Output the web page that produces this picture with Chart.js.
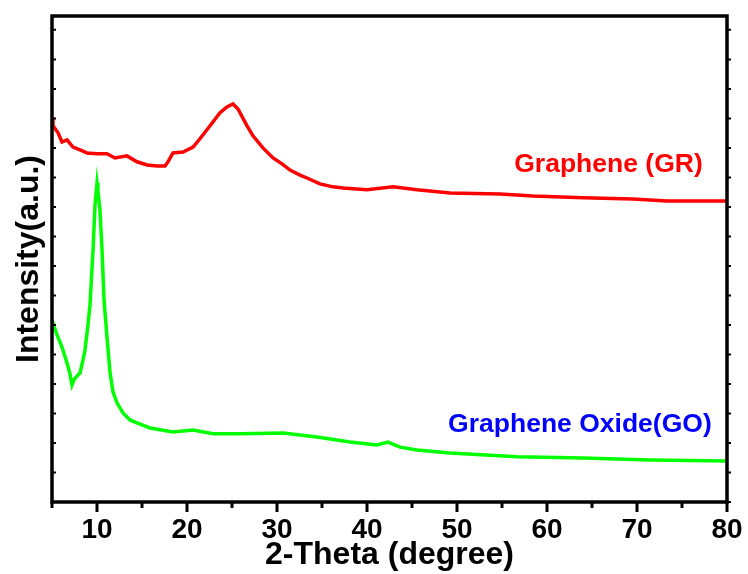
<!DOCTYPE html>
<html>
<head>
<meta charset="utf-8">
<script src="https://cdn.jsdelivr.net/npm/chart.js@4/dist/chart.umd.min.js"></script>
<style>
  html, body { margin: 0; padding: 0; background: #ffffff; }
  #wrap { width: 748px; height: 574px; position: relative; }
</style>
</head>
<body>
<div id="wrap"><canvas id="c" width="748" height="574"></canvas></div>
<script>
// ---- Data (2-theta in degrees, intensity in a.u.) ----
const grTheta = [5.0, 5.11, 5.67, 6.11, 6.67, 7.33, 8.11, 8.89, 10.0, 11.11, 12.0, 13.33, 14.44, 15.56, 16.67, 17.56, 17.89, 18.44, 19.56, 20.67, 21.44, 22.56, 23.67, 24.44, 25.11, 25.67, 26.67, 27.33, 28.44, 29.56, 30.56, 31.44, 32.56, 33.33, 34.78, 36.22, 37.33, 40.0, 42.89, 45.56, 49.22, 54.78, 58.44, 64.0, 69.56, 73.33, 77.0, 80.0];
const grIntensity = [1302, 1275, 1251, 1220, 1227, 1203, 1193, 1183, 1180, 1180, 1166, 1173, 1153, 1142, 1139, 1139, 1153, 1183, 1186, 1203, 1231, 1275, 1319, 1339, 1349, 1332, 1275, 1241, 1200, 1166, 1146, 1125, 1108, 1098, 1078, 1068, 1064, 1058, 1068, 1058, 1047, 1044, 1037, 1031, 1027, 1020, 1020, 1020];

const goTheta = [5.0, 5.56, 6.11, 6.67, 7.0, 7.22, 7.44, 7.78, 8.11, 8.44, 8.67, 9.0, 9.22, 9.56, 9.78, 10.0, 10.11, 10.33, 10.56, 10.78, 11.11, 11.44, 11.78, 12.22, 12.89, 13.67, 14.44, 15.89, 18.44, 20.67, 22.89, 25.89, 30.67, 34.44, 38.11, 41.11, 42.33, 43.67, 45.56, 49.22, 56.67, 64.0, 71.44, 80.0];
const goIntensity = [617, 566, 525, 471, 434, 397, 414, 427, 437, 481, 515, 600, 668, 854, 1007, 1081, 1051, 990, 854, 685, 559, 441, 373, 336, 302, 278, 268, 251, 237, 244, 231, 231, 234, 220, 203, 193, 203, 186, 176, 166, 153, 149, 142, 139];

const xTickLabels = ['10', '20', '30', '40', '50', '60', '70', '80'];
const seriesNames = ['Graphene (GR)', 'Graphene Oxide(GO)'];
const seriesColors = ['#ff0000', '#00ff00'];
const labelColors = ['#ff0000', '#0000ff'];
// label anchors (right edge in degrees, baseline in intensity units)
const labelTheta = [77.3, 78.3];
const labelIntensity = [1119, 237];

const X_MIN = 5, X_MAX = 80, Y_MIN = 0, Y_MAX = 1647;

function toPoints(xs, ys) { return xs.map((x, i) => ({ x: x, y: ys[i] })); }

const FONT = "'Liberation Sans', Arial, Helvetica, sans-serif";

const framePlugin = {
  id: 'frame',
  afterDraw(chart) {
    const { ctx, chartArea: a, scales } = chart;
    const xs = scales.x, ys = scales.y;
    ctx.save();
    ctx.strokeStyle = '#000';
    // x ticks (outward, below bottom axis)
    ctx.lineWidth = 3;
    for (let v = X_MIN; v <= X_MAX; v += 5) {
      const px = xs.getPixelForValue(v);
      const major = v % 10 === 0;
      ctx.beginPath();
      ctx.moveTo(px, a.bottom);
      ctx.lineTo(px, a.bottom + (major ? 10 : 6));
      ctx.stroke();
    }
    // y ticks (small marks on left and right axes)
    ctx.lineWidth = 2;
    for (let v = 0; v <= 1600; v += 100) {
      const py = ys.getPixelForValue(v);
      ctx.beginPath();
      ctx.moveTo(a.left, py); ctx.lineTo(a.left + 4, py);
      ctx.moveTo(a.right, py); ctx.lineTo(a.right + 4, py);
      ctx.stroke();
    }
    // frame
    ctx.lineWidth = 3.5;
    ctx.strokeRect(a.left, a.top, a.right - a.left, a.bottom - a.top);
    // series labels
    ctx.font = "bold 26.5px " + FONT;
    ctx.textAlign = 'right';
    ctx.textBaseline = 'alphabetic';
    for (let i = 0; i < seriesNames.length; i++) {
      ctx.fillStyle = labelColors[i];
      ctx.fillText(seriesNames[i], xs.getPixelForValue(labelTheta[i]), ys.getPixelForValue(labelIntensity[i]));
    }
    ctx.restore();
  }
};

new Chart(document.getElementById('c'), {
  type: 'scatter',
  data: {
    datasets: [
      { label: seriesNames[0], data: toPoints(grTheta, grIntensity), showLine: true, borderColor: seriesColors[0], borderWidth: 3.5, pointRadius: 0, tension: 0 },
      { label: seriesNames[1], data: toPoints(goTheta, goIntensity), showLine: true, borderColor: seriesColors[1], borderWidth: 3.5, pointRadius: 0, tension: 0 }
    ]
  },
  options: {
    responsive: false,
    animation: false,
    devicePixelRatio: 1,
    layout: { padding: { top: 16, right: 21, left: 0, bottom: 0 } },
    plugins: { legend: { display: false }, tooltip: { enabled: false } },
    scales: {
      x: {
        type: 'linear', min: X_MIN, max: X_MAX,
        afterFit(s) { s.height = 72; s.paddingLeft = 0; s.paddingRight = 0; },
        afterBuildTicks(s) { s.ticks = xTickLabels.map(t => ({ value: Number(t) })); },
        grid: { display: false },
        border: { display: false },
        ticks: { color: '#000', font: { family: FONT, size: 28, weight: 'bold' }, padding: 3, maxRotation: 0, autoSkip: false, callback: (v) => String(v) },
        title: { display: true, text: '2-Theta (degree)', color: '#000', font: { family: FONT, size: 32, weight: 'bold' }, padding: { top: 0, bottom: 0 } }
      },
      y: {
        type: 'linear', min: Y_MIN, max: Y_MAX,
        afterFit(s) { s.width = 52; s.paddingTop = 0; s.paddingBottom = 0; },
        grid: { display: false },
        border: { display: false },
        ticks: { display: false },
        title: { display: true, text: 'Intensity(a.u.)', color: '#000', font: { family: FONT, size: 32, weight: 'bold' }, padding: { top: 10, bottom: 0 } }
      }
    }
  },
  plugins: [framePlugin]
});
</script>
</body>
</html>
